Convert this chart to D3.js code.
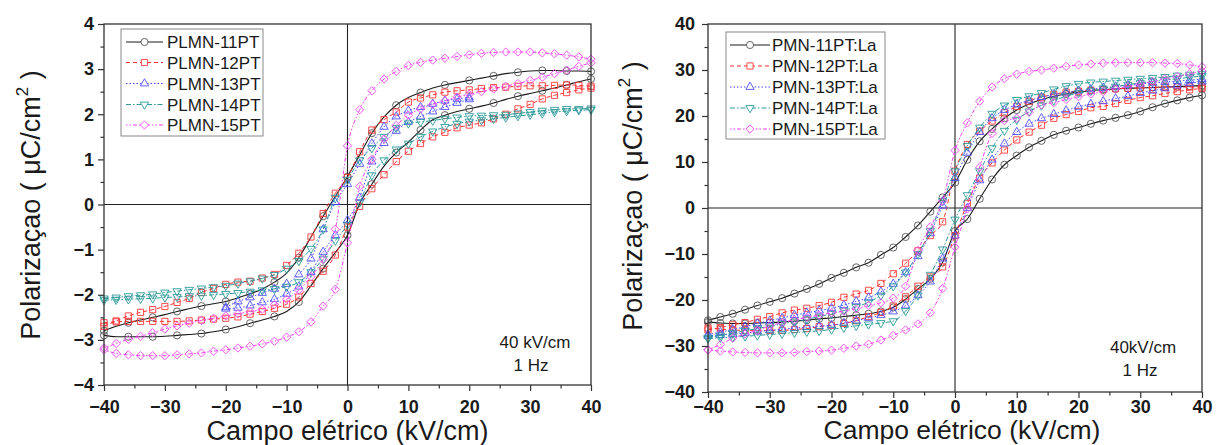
<!DOCTYPE html>
<html><head><meta charset="utf-8">
<script src="https://cdn.jsdelivr.net/npm/d3@7"></script>
<style>
body{margin:0;background:#fff;}
svg{display:block;font-family:Arial,"Liberation Sans",sans-serif;}
</style></head><body>
<svg id="chart" width="1216" height="445"></svg>
<script>
// Electric field samples (kV/cm), ascending
const fieldFull = [-40,-38,-36,-34,-32,-30,-28,-26,-24,-22,-20,-18,-16,-14,-12,-10,-8,-6,-4,-2,0,2,4,6,8,10,12,14,16,18,20,22,24,26,28,30,32,34,36,38,40];
const fieldHalf = [-20,-18,-16,-14,-12,-10,-8,-6,-4,-2,0,2,4,6,8,10,12,14,16,18,20];

// PLMN ceramics: polarization (µC/cm²), upper (descending-field) and lower (ascending-field) branches
const plmn11Up = [-2.80,-2.70,-2.62,-2.56,-2.50,-2.44,-2.37,-2.31,-2.25,-2.20,-2.15,-2.07,-1.98,-1.87,-1.72,-1.52,-1.18,-0.72,-0.26,0.18,0.62,1.10,1.58,1.94,2.20,2.37,2.48,2.58,2.65,2.70,2.75,2.80,2.85,2.90,2.93,2.96,2.97,2.97,2.96,2.96,2.95];
const plmn11Lo = [-2.90,-2.93,-2.93,-2.93,-2.93,-2.92,-2.90,-2.88,-2.86,-2.82,-2.77,-2.71,-2.63,-2.56,-2.48,-2.37,-2.16,-1.80,-1.42,-1.06,-0.68,0.02,0.45,0.85,1.15,1.38,1.65,1.88,1.98,2.06,2.12,2.18,2.25,2.33,2.40,2.46,2.52,2.58,2.65,2.72,2.78];
const plmn12Up = [-2.70,-2.58,-2.47,-2.39,-2.33,-2.26,-2.17,-2.08,-1.95,-1.86,-1.77,-1.72,-1.70,-1.63,-1.55,-1.35,-1.08,-0.72,-0.20,0.25,0.60,1.17,1.65,1.88,2.05,2.27,2.36,2.43,2.49,2.52,2.54,2.57,2.59,2.60,2.62,2.63,2.63,2.64,2.65,2.64,2.62];
const plmn12Lo = [-2.62,-2.60,-2.59,-2.59,-2.59,-2.59,-2.59,-2.58,-2.56,-2.54,-2.52,-2.49,-2.43,-2.37,-2.30,-2.21,-2.05,-1.75,-1.48,-1.12,-0.50,-0.04,0.35,0.66,0.95,1.18,1.35,1.50,1.60,1.70,1.76,1.81,1.90,2.00,2.12,2.22,2.34,2.42,2.48,2.54,2.58];
const plmn13Up = [-2.28,-2.15,-2.06,-1.96,-1.87,-1.76,-1.55,-1.20,-0.55,0.05,0.45,0.90,1.35,1.72,1.95,2.08,2.16,2.23,2.30,2.34,2.37];
const plmn13Lo = [-2.31,-2.29,-2.24,-2.17,-2.10,-1.98,-1.82,-1.50,-1.05,-0.68,-0.35,0.15,0.95,1.36,1.63,1.83,1.95,2.06,2.16,2.25,2.33];
const plmn14Up = [-2.08,-2.06,-2.03,-2.01,-1.99,-1.95,-1.92,-1.89,-1.86,-1.83,-1.80,-1.75,-1.70,-1.64,-1.56,-1.42,-1.25,-0.98,-0.55,0.15,0.55,0.98,1.25,1.50,1.70,1.80,1.83,1.86,1.90,1.93,1.96,1.97,1.98,1.99,2.02,2.05,2.08,2.10,2.12,2.12,2.13];
const plmn14Lo = [-2.12,-2.11,-2.10,-2.09,-2.08,-2.06,-2.05,-2.03,-2.02,-2.00,-1.98,-1.96,-1.93,-1.90,-1.87,-1.82,-1.72,-1.50,-1.20,-0.80,-0.45,0.05,0.65,0.98,1.22,1.35,1.50,1.62,1.72,1.79,1.84,1.87,1.90,1.93,1.96,1.99,2.02,2.05,2.07,2.09,2.10];
const plmn15Up = [-3.18,-3.08,-2.99,-2.92,-2.84,-2.76,-2.69,-2.63,-2.57,-2.52,-2.47,-2.42,-2.37,-2.32,-2.22,-2.10,-1.90,-1.60,-1.22,-0.55,1.30,2.10,2.52,2.78,2.95,3.08,3.15,3.20,3.24,3.28,3.32,3.35,3.37,3.38,3.38,3.38,3.36,3.34,3.31,3.27,3.22];
const plmn15Lo = [-3.22,-3.30,-3.33,-3.35,-3.35,-3.35,-3.33,-3.31,-3.29,-3.25,-3.22,-3.18,-3.14,-3.09,-3.03,-2.94,-2.82,-2.60,-2.25,-1.88,-0.85,0.40,1.00,1.45,1.75,1.98,2.12,2.22,2.30,2.38,2.44,2.50,2.56,2.62,2.68,2.75,2.82,2.90,2.98,3.06,3.14];

// PMN:La ceramics
const pmn11Up = [-24.4,-23.7,-23.0,-22.1,-21.2,-20.4,-19.6,-18.6,-17.6,-16.5,-15.2,-14.1,-12.9,-11.9,-10.2,-8.6,-6.3,-3.8,-0.8,2.3,5.5,10.5,14.5,17.2,19.5,21.3,22.6,23.6,24.3,24.8,25.2,25.5,25.7,25.9,26.0,26.1,26.2,26.3,26.4,26.5,26.6];
const pmn11Lo = [-24.8,-25.0,-25.1,-25.1,-25.0,-24.9,-24.8,-24.6,-24.4,-24.1,-23.9,-23.6,-23.3,-23.0,-22.5,-21.6,-19.8,-17.6,-15.4,-11.8,-5.0,-2.4,2.0,6.2,9.4,11.4,13.2,14.6,15.9,16.8,17.5,18.3,19.0,19.6,20.2,21.0,21.9,22.7,23.4,24.0,24.5];
const pmn12Up = [-26.5,-26.0,-25.4,-24.9,-24.2,-23.6,-22.8,-22.2,-21.8,-21.2,-20.5,-19.4,-18.7,-17.9,-16.4,-14.3,-12.0,-9.3,-6.0,-3.0,8.0,13.8,16.7,18.9,20.7,22.1,23.2,24.1,24.7,25.2,25.4,25.6,25.7,25.9,26.0,26.1,26.2,26.3,26.3,26.3,26.3];
const pmn12Lo = [-26.1,-26.3,-26.5,-26.6,-26.6,-26.6,-26.6,-26.4,-26.2,-25.8,-25.5,-25.1,-24.5,-23.6,-22.7,-21.3,-19.3,-17.0,-15.0,-12.8,-6.0,1.0,6.5,9.8,12.6,14.8,16.5,18.0,19.5,20.3,21.0,21.8,22.1,22.7,23.4,24.0,24.4,24.9,25.3,25.7,26.0];
const pmn13Up = [-27.5,-27.0,-26.4,-25.8,-25.1,-24.5,-23.9,-23.3,-22.8,-22.3,-21.8,-21.1,-20.3,-19.5,-18.2,-16.5,-14.0,-10.5,-5.5,0.5,6.5,12.0,16.5,19.5,21.3,22.5,23.4,24.1,24.7,25.1,25.5,25.8,26.1,26.4,26.7,27.0,27.2,27.4,27.6,27.8,28.0];
const pmn13Lo = [-27.8,-27.6,-27.4,-27.2,-26.9,-26.6,-26.4,-26.1,-25.9,-25.7,-25.5,-25.0,-24.5,-23.9,-23.3,-22.5,-21.2,-19.0,-16.0,-11.0,-6.0,0.0,6.0,10.5,14.0,16.5,18.3,19.5,20.4,21.2,22.0,22.6,23.2,23.8,24.3,25.0,25.5,26.0,26.6,27.1,27.5];
const pmn14Up = [-28.2,-27.7,-27.2,-26.7,-26.2,-25.7,-25.2,-24.7,-24.2,-23.6,-23.0,-22.3,-21.5,-20.5,-19.0,-17.0,-14.0,-10.0,-5.0,1.5,8.0,13.5,17.5,20.5,22.3,23.5,24.3,25.0,25.8,26.5,27.0,27.3,27.5,27.7,27.9,28.1,28.3,28.5,28.8,29.0,29.2];
const pmn14Lo = [-28.4,-28.2,-28.1,-27.9,-27.7,-27.5,-27.3,-27.1,-26.9,-26.7,-26.4,-26.0,-25.6,-25.3,-25.0,-24.6,-22.4,-19.0,-14.5,-9.0,-2.5,2.8,8.0,13.0,16.8,19.2,21.0,22.3,23.4,24.3,25.0,25.5,26.0,26.4,26.8,27.2,27.5,27.8,28.1,28.4,28.7];
const pmn15Up = [-30.8,-29.7,-28.3,-27.4,-26.6,-25.6,-24.9,-24.3,-23.8,-23.3,-22.8,-22.4,-21.9,-21.2,-20.6,-19.6,-17.0,-9.2,-4.1,1.5,12.5,18.5,23.2,26.3,28.1,29.1,29.7,30.0,30.4,30.8,31.1,31.3,31.5,31.6,31.6,31.6,31.6,31.5,31.4,31.1,30.7];
const pmn15Lo = [-30.9,-31.1,-31.3,-31.4,-31.5,-31.5,-31.5,-31.4,-31.2,-31.1,-30.9,-30.5,-30.0,-29.6,-28.7,-27.7,-26.5,-25.2,-22.8,-17.5,-8.5,-0.2,8.9,16.2,19.0,19.5,20.8,22.4,22.9,23.6,24.2,24.8,25.3,25.9,26.4,27.0,27.5,28.1,28.6,29.2,29.8];

const leftNames = ["PLMN-11PT","PLMN-12PT","PLMN-13PT","PLMN-14PT","PLMN-15PT"];
const rightNames = ["PMN-11PT:La","PMN-12PT:La","PMN-13PT:La","PMN-14PT:La","PMN-15PT:La"];
const xTickValues = [-40,-30,-20,-10,0,10,20,30,40];
const leftYTickValues = [-4,-3,-2,-1,0,1,2,3,4];
const rightYTickValues = [-40,-30,-20,-10,0,10,20,30,40];
const leftNotes = ["40 kV/cm","1 Hz"];
const rightNotes = ["40kV/cm","1 Hz"];

// Shared series styling (in series order)
const lineColors = ["#1a1a1a","#ff3030","#4646ff","#2e9a9a","#f040f0"];
const markColors = ["#555555","#ff3838","#5050ff","#2e9a9a","#f050f0"];
const dashes = [null,"4,3","1.5,2","5,2,1.5,2","1.5,2,1.5,2,4,2"];
const shapes = ["circle","square","triangle","triangleDown","diamond"];

const svg = d3.select("#chart");

function symbolPath(shape){
  switch(shape){
    case "circle": return d3.symbol(d3.symbolCircle, 40)();
    case "square": return d3.symbol(d3.symbolSquare, 38)();
    case "triangle": return d3.symbol(d3.symbolTriangle, 30)();
    case "triangleDown": return d3.symbol(d3.symbolTriangle, 30)();
    case "diamond": return d3.symbol(d3.symbolSquare, 34)();
  }
}
function symbolRot(shape){
  return shape === "triangleDown" ? 180 : (shape === "diamond" ? 45 : 0);
}

function drawPanel(cfg){
  const x = d3.scaleLinear().domain([-40,40]).range([cfg.x0, cfg.x1]);
  const y = d3.scaleLinear().domain(cfg.yDomain).range([cfg.y1, cfg.y0]);
  const g = svg.append("g");

  // zero lines
  g.append("line").attr("x1", x(-40)).attr("x2", x(40)).attr("y1", y(0)).attr("y2", y(0))
    .attr("stroke","#222").attr("stroke-width",1.1);
  g.append("line").attr("x1", x(0)).attr("x2", x(0)).attr("y1", y(cfg.yDomain[0])).attr("y2", y(cfg.yDomain[1]))
    .attr("stroke","#222").attr("stroke-width",1.1);

  const line = d3.line().x(d => x(d[0])).y(d => y(d[1])).curve(d3.curveMonotoneX);

  cfg.series.forEach((s, i) => {
    const sg = g.append("g");
    [s.up, s.lo].forEach(branch => {
      const pts = s.field.map((e, k) => [e, branch[k]]);
      sg.append("path").attr("d", line(pts)).attr("fill","none")
        .attr("stroke", lineColors[i]).attr("stroke-width", i === 0 ? 1.1 : 1)
        .attr("stroke-dasharray", dashes[i]);
      const marks = pts.filter((p, k) => k % s.step === 0);
      sg.selectAll(null).data(marks).enter().append("path")
        .attr("d", symbolPath(shapes[i]))
        .attr("transform", d => `translate(${x(d[0])},${y(d[1])}) rotate(${symbolRot(shapes[i])})`)
        .attr("fill","none").attr("stroke", markColors[i]).attr("stroke-width",0.9);
    });
  });

  // frame
  g.append("rect").attr("x", cfg.x0).attr("y", cfg.y0)
    .attr("width", cfg.x1 - cfg.x0).attr("height", cfg.y1 - cfg.y0)
    .attr("fill","none").attr("stroke","#333").attr("stroke-width",1.3);

  // axes
  const ax = g.append("g").attr("transform", `translate(0,${cfg.y1})`)
    .call(d3.axisBottom(x).tickValues(xTickValues).tickSize(6).tickSizeOuter(0).tickPadding(cfg.xPad));
  const axMinor = g.append("g").attr("transform", `translate(0,${cfg.y1})`)
    .call(d3.axisBottom(x).tickValues(d3.range(-35,40,10)).tickSize(3.5).tickSizeOuter(0).tickFormat(""));
  const ay = g.append("g").attr("transform", `translate(${cfg.x0},0)`)
    .call(d3.axisLeft(y).tickValues(cfg.yTicks).tickSize(6).tickSizeOuter(0).tickPadding(cfg.yPad));
  const ayMinor = g.append("g").attr("transform", `translate(${cfg.x0},0)`)
    .call(d3.axisLeft(y).tickValues(cfg.yMinor).tickSize(3.5).tickSizeOuter(0).tickFormat(""));
  [ax, axMinor, ay, ayMinor].forEach(a => {
    a.select(".domain").remove();
    a.selectAll("line").attr("stroke","#333").attr("stroke-width",1.2);
    a.selectAll("text").attr("font-family","Arial, 'Liberation Sans', sans-serif")
      .attr("font-size",18).attr("font-weight","bold").attr("fill","#1a1a1a");
  });

  // axis titles
  svg.append("text").attr("x", (cfg.x0 + cfg.x1)/2 + cfg.xTitleShift).attr("y", cfg.xTitleY)
    .attr("text-anchor","middle").attr("font-size",cfg.xTitleSize).attr("fill","#1a1a1a")
    .text("Campo elétrico (kV/cm)");
  const yt = svg.append("text")
    .attr("transform", `translate(${cfg.yTitleX},${cfg.yTitleY}) rotate(-90)`)
    .attr("text-anchor","middle").attr("font-size",27).attr("fill","#1a1a1a");
  yt.append("tspan").text("Polarizaçao ( μC/cm");
  yt.append("tspan").attr("font-size",17).attr("dy",-12).text("2");
  yt.append("tspan").attr("dy",12).text(" )");

  // test conditions note
  cfg.notes.forEach((t, k) => {
    svg.append("text").attr("x", cfg.noteX[k]).attr("y", cfg.noteY[k])
      .attr("text-anchor","middle").attr("font-size",17).attr("fill","#1a1a1a").text(t);
  });

  // legend
  const lg = svg.append("g");
  lg.append("rect").attr("x", cfg.lg.x).attr("y", cfg.lg.y).attr("width", cfg.lg.w).attr("height", cfg.lg.h)
    .attr("fill","#fff").attr("stroke","#888").attr("stroke-width",1);
  cfg.names.forEach((n, i) => {
    const yy = cfg.lg.rows[i];
    lg.append("line").attr("x1", cfg.lg.sx0).attr("x2", cfg.lg.sx1).attr("y1", yy).attr("y2", yy)
      .attr("stroke", lineColors[i]).attr("stroke-width",1).attr("stroke-dasharray", dashes[i]);
    lg.append("path").attr("d", symbolPath(shapes[i]))
      .attr("transform", `translate(${(cfg.lg.sx0 + cfg.lg.sx1)/2},${yy}) rotate(${symbolRot(shapes[i])})`)
      .attr("fill","#fff").attr("stroke", markColors[i]).attr("stroke-width",0.9);
    lg.append("text").attr("x", cfg.lg.tx).attr("y", yy + 6).attr("font-size",17).attr("fill","#1a1a1a").text(n);
  });
}

drawPanel({
  x0: 104, x1: 591, y0: 24, y1: 385,
  yDomain: [-4, 4], yTicks: leftYTickValues, yMinor: d3.range(-3.5, 4, 1), yPad: 4, xPad: 9,
  xTitleShift: 0, xTitleY: 439.5, xTitleSize: 27, yTitleX: 40, yTitleY: 205,
  series: [
    {field: fieldFull, up: plmn11Up, lo: plmn11Lo, step: 2},
    {field: fieldFull, up: plmn12Up, lo: plmn12Lo, step: 1},
    {field: fieldHalf, up: plmn13Up, lo: plmn13Lo, step: 1},
    {field: fieldFull, up: plmn14Up, lo: plmn14Lo, step: 1},
    {field: fieldFull, up: plmn15Up, lo: plmn15Lo, step: 1}
  ],
  names: leftNames, notes: leftNotes, noteX: [535, 531], noteY: [348, 371],
  lg: {x: 121, y: 29, w: 142, h: 107, rows: [42, 62.5, 83.5, 104.5, 125], sx0: 126, sx1: 163, tx: 167}
});

drawPanel({
  x0: 708, x1: 1202, y0: 24, y1: 392,
  yDomain: [-40, 40], yTicks: rightYTickValues, yMinor: d3.range(-35, 40, 10), yPad: 7, xPad: 2,
  xTitleShift: 7, xTitleY: 439, xTitleSize: 26.5, yTitleX: 642, yTitleY: 196,
  series: [
    {field: fieldFull, up: pmn11Up, lo: pmn11Lo, step: 1},
    {field: fieldFull, up: pmn12Up, lo: pmn12Lo, step: 1},
    {field: fieldFull, up: pmn13Up, lo: pmn13Lo, step: 1},
    {field: fieldFull, up: pmn14Up, lo: pmn14Lo, step: 1},
    {field: fieldFull, up: pmn15Up, lo: pmn15Lo, step: 1}
  ],
  names: rightNames, notes: rightNotes, noteX: [1143, 1140], noteY: [353, 376],
  lg: {x: 726, y: 32, w: 159, h: 107, rows: [45, 66, 87, 108, 129], sx0: 730, sx1: 770, tx: 772}
});
</script>
</body></html>
